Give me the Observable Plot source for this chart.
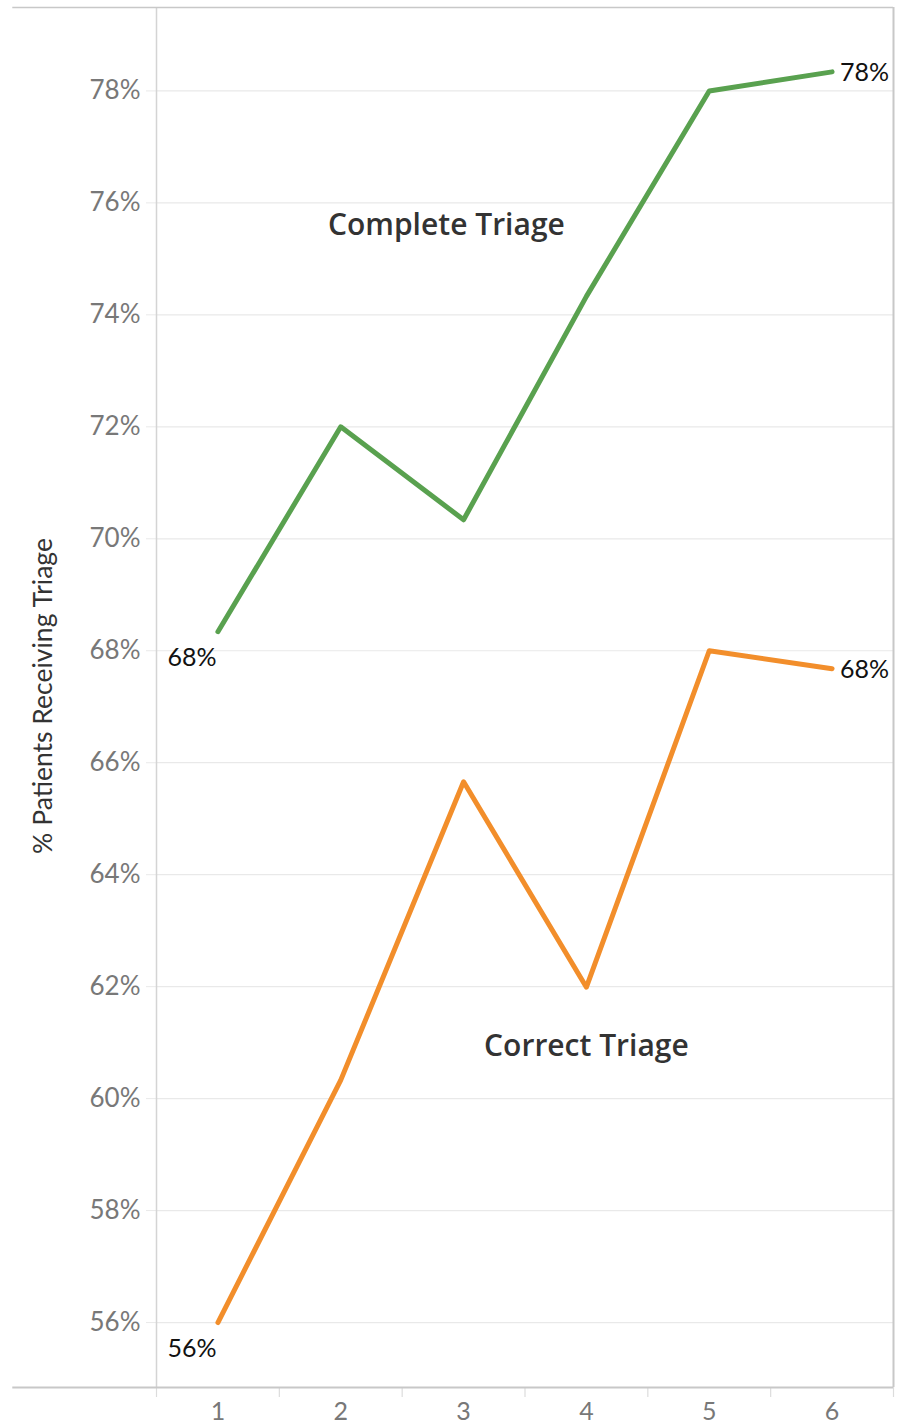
<!DOCTYPE html>
<html>
<head>
<meta charset="utf-8">
<script src="https://cdn.jsdelivr.net/npm/d3@7"></script>
<script src="https://cdn.jsdelivr.net/npm/@observablehq/plot@0.6"></script>
<style>
  html, body { margin: 0; padding: 0; background: #fff; }
  #chart svg { display: block; }
</style>
</head>
<body>
<div id="chart"></div>
<script>
const periods = [1, 2, 3, 4, 5, 6];
const completeTriage = [68.34, 72.0, 70.34, 74.33, 78.0, 78.34];
const correctTriage = [56.0, 60.33, 65.66, 61.99, 68.0, 67.68];
const seriesNames = ["Complete Triage", "Correct Triage"];
const seriesColors = ["#59a14f", "#f28e2b"];
const seriesLabelX = [2.86, 4.0];
const seriesLabelY = [75.6, 60.93];
const yTicks = [56, 58, 60, 62, 64, 66, 68, 70, 72, 74, 76, 78];
const xBoundaries = [0.5, 1.5, 2.5, 3.5, 4.5, 5.5, 6.5];
const yDomain = [54.84, 79.49];
const xDomain = [0.5, 6.5];

const rows = [];
periods.forEach((p, i) => {
  rows.push({series: seriesNames[0], period: p, value: completeTriage[i]});
  rows.push({series: seriesNames[1], period: p, value: correctTriage[i]});
});
const firsts = rows.filter(d => d.period === periods[0]);
const lasts = rows.filter(d => d.period === periods[periods.length - 1]);
const annotations = seriesNames.map((s, i) => ({series: s, x: seriesLabelX[i], y: seriesLabelY[i]}));
const fmt = v => Math.round(v) + "%";

const chart = Plot.plot({
  width: 900,
  height: 1428,
  marginLeft: 156,
  marginRight: 7,
  marginTop: 7,
  marginBottom: 41,
  style: {fontFamily: "Lato, sans-serif", background: "#fff"},
  x: {domain: xDomain},
  y: {domain: yDomain},
  color: {domain: seriesNames, range: seriesColors},
  marks: [
    Plot.gridY(yTicks, {stroke: "#e9e9e9", strokeOpacity: 1, strokeWidth: 1.2}),
    Plot.axisY({ticks: yTicks, tickFormat: d => d + "%", tickSize: 10, stroke: "#e9e9e9", tickPadding: 6,
      fontSize: 26, fill: "#787878", label: null}),
    Plot.axisX({ticks: xBoundaries, tickSize: 10, stroke: "#dcdcdc", strokeWidth: 1.2, tickFormat: () => "", label: null}),
    Plot.axisX({ticks: periods, tickFormat: d => String(d), tickSize: 0, tickPadding: 15, fontSize: 25,
      fill: "#787878", label: null}),
    Plot.ruleX([xDomain[0]], {stroke: "#d4d4d4", strokeWidth: 1.5}),
    Plot.ruleX([xDomain[1]], {stroke: "#c8c8c8", strokeWidth: 2}),
    Plot.ruleY([yDomain[1]], {x1: -0.67, x2: xDomain[1], stroke: "#c8c8c8", strokeWidth: 1.5, clip: false}),
    Plot.ruleY([yDomain[0]], {x1: -0.67, x2: xDomain[1], stroke: "#c8c8c8", strokeWidth: 2, clip: false}),
    Plot.line(rows, {x: "period", y: "value", z: "series", stroke: "series", strokeWidth: 5,
      strokeLinecap: "round", strokeLinejoin: "round"}),
    Plot.text(firsts, {x: "period", y: "value", text: d => fmt(d.value), dx: -26, dy: 26,
      fontSize: 25, fill: "#111", textAnchor: "middle"}),
    Plot.text(lasts, {x: "period", y: "value", text: d => fmt(d.value), dx: 8, dy: 1,
      fontSize: 25, fill: "#111", textAnchor: "start"}),
    Plot.text(annotations, {x: "x", y: "y", text: "series", fontSize: 30, fill: "#333",
      fontWeight: 600, fontFamily: "'Open Sans', sans-serif"})
  ]
});

// y-axis title
const svg = d3.select(chart);
svg.append("text")
  .attr("transform", "translate(45,696) rotate(-90)")
  .attr("text-anchor", "middle")
  .attr("dominant-baseline", "middle")
  .style("font-size", "26.5px")
  .attr("fill", "#333")
  .text("% Patients Receiving Triage");

document.getElementById("chart").appendChild(chart);
</script>
</body>
</html>
